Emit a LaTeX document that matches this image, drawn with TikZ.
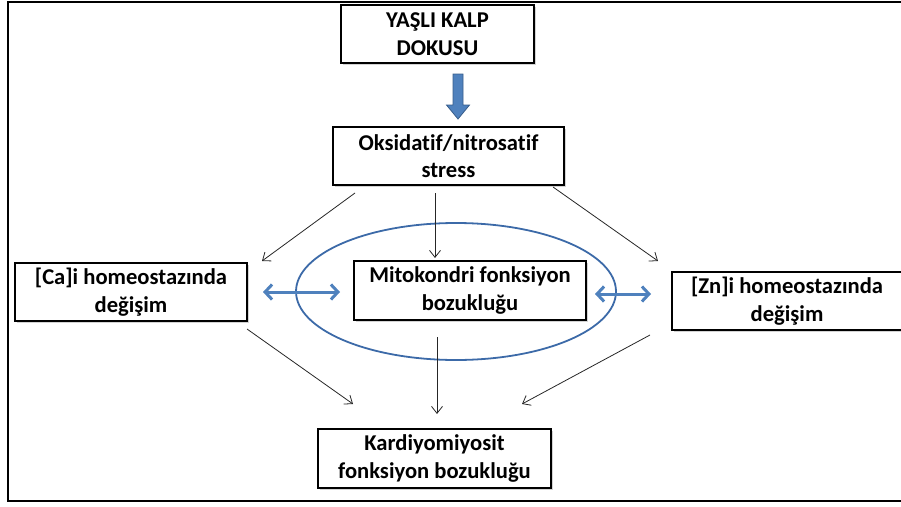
\documentclass[tikz,border=0pt]{standalone}
\usepackage{fontspec}
\setmainfont{Carlito}[Ligatures=NoCommon]
\usetikzlibrary{arrows.meta,shadows,calc}
\definecolor{blueA}{HTML}{4F81BD}
\definecolor{blueB}{HTML}{3C6AA8}
\definecolor{blueD}{HTML}{385D8A}
\begin{document}
\begin{tikzpicture}[x=1pt,y=-1pt,
  box/.style={draw=black,line width=2pt,fill=white,align=center,inner sep=0pt,
    font=\fontsize{22.6}{27.5}\selectfont\bfseries,
    drop shadow={opacity=0.35,shadow xshift=1.8pt,shadow yshift=-1.8pt}},
  thinarrow/.style={draw=black!85,line width=0.8pt,-{Straight Barb[length=7pt,width=11pt]}},
  dblarrow/.style={draw=blueA,line width=3pt,{Straight Barb[length=7pt,width=15pt]}-{Straight Barb[length=7pt,width=15pt]}}]
\useasboundingbox (0,0) rectangle (901,506);
\draw[line width=2.4pt] (910,2) -- (8,2) -- (8,501) -- (910,501);
% ellipse
\draw[blueB,line width=1.8pt] (456,291.5) ellipse [x radius=160,y radius=68.5];
% boxes
\node[box,minimum width=193,minimum height=58] (top) at (437.5,34) {YAŞLI KALP\\DOKUSU};
\node[box,minimum width=231,minimum height=58] (oks) at (448.5,156) {Oksidatif/nitrosatif\\stress};
\node[box,minimum width=232,minimum height=58] (ca) at (131,292) {[Ca]i homeostazında\\değişim};
\node[box,minimum width=232,minimum height=59] (mito) at (470,290.5) {Mitokondri fonksiyon\\bozukluğu};
\node[box,minimum width=230,minimum height=58] (zn) at (787,301) {[Zn]i homeostazında\\değişim};
\node[box,minimum width=233,minimum height=59] (kard) at (434.5,458.5) {Kardiyomiyosit\\fonksiyon bozukluğu};
% thick blue arrow
\fill[blueA,draw=blueD,line width=0.8pt] (453,74) -- (463,74) -- (463,105) -- (469.5,105) -- (458,119) -- (446.5,105) -- (453,105) -- cycle;
% connector end points
\coordinate (o1) at (355,193);
\coordinate (o2) at (435,193);
\coordinate (o3) at (553,187);
\coordinate (e1) at (262,261);
\coordinate (e2) at (435,258);
\coordinate (e3) at (658,261);
\coordinate (c1) at (247,329);
\coordinate (m1) at (437,337);
\coordinate (z1) at (650,335);
\coordinate (k1) at (353,404);
\coordinate (k2) at (437,414);
\coordinate (k3) at (522,404);
\coordinate (da1) at (263,292);
\coordinate (da2) at (340,292);
\coordinate (db1) at (595,294);
\coordinate (db2) at (651,294);
\draw[thinarrow] (o1) -- (e1);
\draw[thinarrow] (o2) -- (e2);
\draw[thinarrow] (o3) -- (e3);
\draw[thinarrow] (c1) -- (k1);
\draw[thinarrow] (m1) -- (k2);
\draw[thinarrow] (z1) -- (k3);
\draw[dblarrow] (da1) -- (da2);
\draw[dblarrow] (db1) -- (db2);
\end{tikzpicture}
\end{document}
